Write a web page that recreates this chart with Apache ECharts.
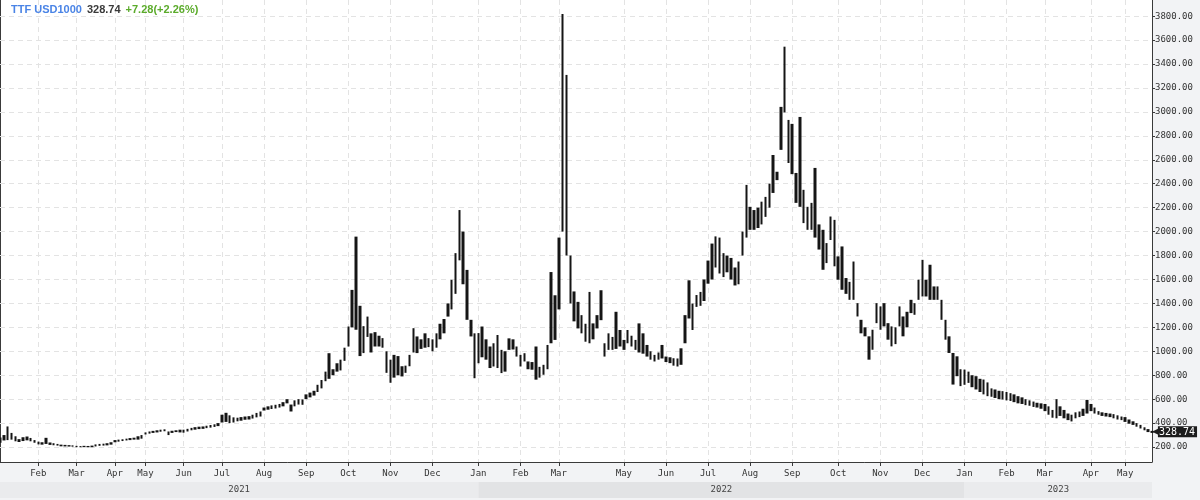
<!DOCTYPE html>
<html><head><meta charset="utf-8">
<script src="https://cdn.jsdelivr.net/npm/echarts@6/dist/echarts.min.js"></script>
<style>html,body{margin:0;padding:0;background:#f2f3f5}#c{width:1200px;height:500px}</style>
</head><body><div id="c"></div>
<script>
// ---- axis / label data ----
const years = ['2021', '2022', '2023'];
const months2021 = ['Jan','Feb','Mar','Apr','May','Jun','Jul','Aug','Sep','Oct','Nov','Dec'];
const bars2021   = [10, 10, 10, 8, 10, 10, 11, 11, 11, 11, 11, 12];
const months2022 = ['Jan','Feb','Mar','May','Jun','Jul','Aug','Sep','Oct','Nov','Dec'];
const bars2022   = [11, 10, 17, 11, 11, 11, 11, 12, 11, 11, 11];
const months2023 = ['Jan','Feb','Mar','Apr','May'];
const bars2023   = [11, 10, 12, 9, 8];
const yTicks = [200,400,600,800,1000,1200,1400,1600,1800,2000,2200,2400,2600,2800,3000,3200,3400,3600,3800];

// ---- price data (low / high of each bar), USD per 1000 m3 ----
const low2021 = [
  236,255,258,262,248,242,250,256,248,236,
  222,220,226,218,215,212,206,205,204,203,
  199,198,200,198,199,205,210,212,214,220,
  240,245,250,255,258,262,262,270,
  305,312,318,322,328,332,300,318,325,322,
  320,330,340,345,350,352,358,362,368,375,
  405,410,400,405,415,420,428,430,438,448,455,
  505,512,518,522,530,540,565,497,540,555,553,
  600,615,630,660,690,750,770,800,830,840,920,
  1040,1200,1180,960,985,1120,990,1040,1040,1030,820,
  737,780,800,790,820,875,990,985,1020,1030,1035,
  1000,1030,1100,1150,1290,1350,1480,1760,1560,1263,1124,775
];
const high2021 = [
  280,300,372,318,290,266,282,288,276,258,
  245,240,277,238,232,226,220,218,216,214,
  210,208,210,209,212,222,226,228,232,240,
  258,262,265,270,275,278,290,300,
  322,330,335,340,345,348,330,336,340,345,
  345,352,360,366,370,372,378,384,390,400,
  470,486,465,448,445,450,455,458,470,485,497,
  530,540,548,553,560,575,600,555,590,600,598,
  640,655,670,720,760,830,984,850,900,930,1030,
  1207,1513,1958,1380,1210,1290,1150,1160,1130,1110,1000,
  930,970,960,875,880,970,1193,1124,1100,1150,1110,
  1100,1150,1230,1270,1400,1597,1820,2180,2000,1680,1263,1150
];
const low2022 = [
  900,950,930,860,873,860,818,830,1012,1015,956,
  873,915,850,846,763,780,804,850,1067,1095,
  1350,2000,1800,1400,1250,1191,1150,1080,1067,1100,1191,1260,956,1012,1012,1020,1040,
  1012,1067,1040,1012,990,980,956,930,915,930,940,
  910,901,880,873,887,1067,1274,1178,1371,1380,1420,
  1565,1600,1700,1650,1620,1660,1600,1550,1560,1800,1950,
  2015,2015,2030,2060,2123,2200,2323,2430,2683,2996,2573,
  2480,2240,2207,2071,2015,2015,1950,1850,1681,1737,1930,1710,
  1598,1514,1480,1430,1430,1291,1150,1125,930,1013,1235,
  1180,1208,1097,1041,1060,1208,1125,1200,1319,1305,1430,
  1458,1458,1430,1430,1430,1263,1097,986,722,792,709
];
const high2022 = [
  1152,1207,1100,1040,1067,1136,1012,1000,1108,1100,1040,
  970,984,915,910,1040,870,887,1053,1662,1468,
  1950,3818,3309,1800,1500,1413,1302,1230,1496,1233,1302,1510,1067,1150,1120,1330,1178,
  1095,1178,1130,1095,1233,1150,1053,1000,970,990,1053,
  956,950,942,940,1025,1302,1593,1399,1470,1496,1600,
  1758,1900,1960,1950,1820,1800,1780,1700,1750,2000,2390,
  2207,2180,2200,2250,2290,2400,2640,2500,3042,3545,2933,
  2900,2490,2958,2349,2207,2240,2532,2060,2015,1904,2126,2098,
  1793,1876,1612,1580,1750,1402,1263,1200,1125,1180,1402,
  1375,1402,1235,1208,1200,1375,1291,1330,1430,1402,1598,
  1764,1598,1723,1542,1542,1430,1263,1125,986,958,850
];
const low2023 = [
  720,736,700,681,660,640,625,620,610,600,597,
  590,585,575,565,560,550,545,535,530,520,
  500,470,445,440,460,440,425,414,440,450,460,480,
  500,480,470,460,455,450,440,430,425,
  410,395,385,370,355,340,325,318
];
const high2023 = [
  847,830,800,792,770,764,740,690,681,670,667,
  660,650,640,625,615,600,590,580,570,565,
  560,540,510,600,540,510,480,470,490,497,520,594,
  560,530,500,490,485,480,475,465,455,
  450,430,415,400,385,365,350,335
];
const lastPrice = 328.74;
const change = '+7.28(+2.26%)';
const yMin = 75, yMax = 3935;

// ---- build categories ----
const categories = [];
const monthStart = new Set();
const yearStartCat = [];
function addYear(y, ms, bs) {
  ms.forEach((m, mi) => {
    for (let k = 0; k < bs[mi]; k++) {
      if (k === 0) {
        if (mi === 0) yearStartCat.push(categories.length);
        if (!(y === '2021' && mi === 0)) monthStart.add(categories.length);
      }
      categories.push(y + '-' + m + '-' + k);
    }
  });
}
addYear(years[0], months2021, bars2021);
addYear(years[1], months2022, bars2022);
addYear(years[2], months2023, bars2023);

const lows = low2021.concat(low2022, low2023);
const highs = high2021.concat(high2022, high2023);
const ohlc = lows.map((l, i) => [l, highs[i], l, highs[i]]);

const isMonth = (idx) => monthStart.has(idx);
const mono = 'DejaVu Sans Mono';
const gridLineStyle = { color: '#e3e3e3', type: [5, 4], width: 1 };

const bandData = years.map((yr, i) => {
  const s = yearStartCat[i];
  const e = i < years.length - 1 ? yearStartCat[i + 1] : categories.length - 1;
  return [
    { xAxis: categories[s], name: yr, itemStyle: { color: i % 2 ? '#e2e3e5' : '#eaebed' } },
    { xAxis: categories[e] }
  ];
});

const chart = echarts.init(document.getElementById('c'), null, { renderer: 'canvas' });
chart.setOption({
  animation: false,
  backgroundColor: '#f2f3f5',
  title: {
    left: 11, top: 1, padding: 0,
    text: '{a|TTF USD1000} {b|' + lastPrice.toFixed(2) + '} {c|' + change + '}',
    textStyle: {
      rich: {
        a: { color: '#4a84e6', fontWeight: 'bold', fontSize: 11, lineHeight: 13, fontFamily: 'Liberation Sans' },
        b: { color: '#3a3a3a', fontWeight: 'bold', fontSize: 11, lineHeight: 13, fontFamily: 'Liberation Sans' },
        c: { color: '#5bab2b', fontWeight: 'bold', fontSize: 11, lineHeight: 13, fontFamily: 'Liberation Sans' }
      }
    }
  },
  grid: [
    { left: 0, right: 48, top: 0, bottom: 38, show: true, backgroundColor: '#ffffff', borderWidth: 0 },
    { left: 0, right: 48, top: 482, height: 16, show: false }
  ],
  xAxis: [
    {
      type: 'category', gridIndex: 0, data: categories, boundaryGap: false,
      axisLine: { lineStyle: { color: '#3a3a3a', width: 1 } },
      axisTick: { interval: isMonth, length: 4, lineStyle: { color: '#3a3a3a' } },
      axisLabel: {
        interval: isMonth, formatter: (v) => v.split('-')[1],
        fontFamily: mono, fontSize: 9, color: '#333', margin: 7
      },
      splitLine: { show: true, interval: isMonth, lineStyle: gridLineStyle }
    },
    {
      type: 'category', gridIndex: 1, data: categories, boundaryGap: false, show: false
    }
  ],
  yAxis: [
    {
      type: 'value', gridIndex: 0, position: 'right',
      min: yMin, max: yMax,
      axisLine: { show: true, lineStyle: { color: '#3a3a3a' } },
      axisTick: { show: true, length: 3, customValues: yTicks, lineStyle: { color: '#3a3a3a' } },
      axisLabel: {
        customValues: yTicks,
        formatter: (v) => v.toFixed(2),
        fontFamily: mono, fontSize: 9, color: '#333', margin: 3
      },
      splitLine: { show: false }
    },
    {
      type: 'value', gridIndex: 0, position: 'left', min: yMin, max: yMax,
      axisLine: { show: true, lineStyle: { color: '#3a3a3a' } },
      axisTick: { show: false }, axisLabel: { show: false }, splitLine: { show: false }
    },
    { type: 'value', gridIndex: 1, min: 0, max: 1, show: false }
  ],
  series: [
    {
      type: 'candlestick', xAxisIndex: 0, yAxisIndex: 0, data: ohlc,
      barWidth: 3, z: 5,
      itemStyle: { color: '#151515', color0: '#151515', borderColor: '#151515', borderColor0: '#151515', borderWidth: 0 },
      markLine: {
        silent: true, symbol: 'none', z: 1,
        lineStyle: gridLineStyle,
        label: { show: false },
        data: yTicks.map(v => ({ yAxis: v }))
      }
    },
    {
      type: 'line', xAxisIndex: 0, yAxisIndex: 0, data: [], silent: true, z: 10,
      markLine: {
        silent: true, symbol: 'none',
        lineStyle: { color: 'rgba(0,0,0,0)', width: 0 },
        data: [{ yAxis: lastPrice }],
        label: {
          show: true, position: 'end', distance: 0,
          formatter: '{arr|◀}{box|' + lastPrice.toFixed(2) + '}',
          rich: {
            arr: { color: '#1c1c1c', fontSize: 9, fontFamily: 'DejaVu Sans', padding: [0, -1, 0, 0] },
            box: { color: '#ffffff', backgroundColor: '#1c1c1c', padding: [1, 2, 0, 1], fontFamily: mono, fontSize: 10 }
          }
        }
      }
    },
    {
      type: 'line', xAxisIndex: 1, yAxisIndex: 2, data: [], silent: true,
      markArea: {
        silent: true,
        label: { show: true, position: 'inside', fontFamily: mono, fontSize: 9, color: '#444' },
        data: bandData
      }
    }
  ]
});
</script></body></html>
